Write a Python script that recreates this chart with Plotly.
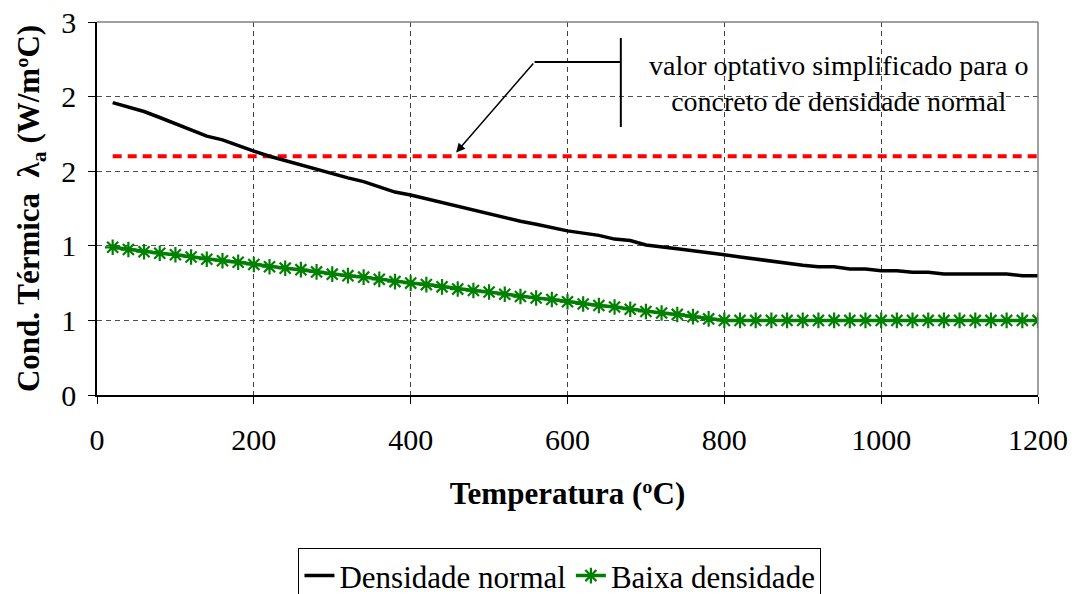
import plotly.graph_objects as go

# Temperature points (°C)
temps = [20, 40, 60, 80, 100, 120, 140, 160, 180, 200, 220, 240, 260, 280, 300,
         320, 340, 360, 380, 400, 420, 440, 460, 480, 500, 520, 540, 560, 580, 600,
         620, 640, 660, 680, 700, 720, 740, 760, 780, 800, 820, 840, 860, 880, 900,
         920, 940, 960, 980, 1000, 1020, 1040, 1060, 1080, 1100, 1120, 1140, 1160,
         1180, 1200]

# Thermal conductivity, normal-density concrete (W/m°C)
normal_density = [1.96, 1.93, 1.90, 1.86, 1.82, 1.78, 1.735, 1.71, 1.67, 1.635,
                  1.60, 1.57, 1.545, 1.515, 1.48, 1.455, 1.43, 1.395, 1.36, 1.34,
                  1.315, 1.29, 1.26, 1.24, 1.215, 1.19, 1.165, 1.145, 1.12, 1.10,
                  1.085, 1.07, 1.045, 1.035, 1.005, 0.995, 0.98, 0.967, 0.955, 0.94,
                  0.925, 0.91, 0.895, 0.88, 0.87, 0.86, 0.86, 0.845, 0.845, 0.833,
                  0.833, 0.822, 0.822, 0.811, 0.811, 0.811, 0.811, 0.811, 0.80, 0.80]

# Thermal conductivity, low-density concrete (W/m°C)
low_density = [0.99, 0.975, 0.96, 0.95, 0.94, 0.925, 0.91, 0.90, 0.89, 0.875,
               0.86, 0.85, 0.84, 0.825, 0.81, 0.80, 0.79, 0.775, 0.76, 0.75,
               0.74, 0.725, 0.71, 0.70, 0.69, 0.675, 0.66, 0.65, 0.64, 0.625,
               0.61, 0.60, 0.59, 0.575, 0.56, 0.55, 0.54, 0.525, 0.51, 0.50,
               0.50, 0.50, 0.50, 0.50, 0.50, 0.50, 0.50, 0.50, 0.50, 0.50,
               0.50, 0.50, 0.50, 0.50, 0.50, 0.50, 0.50, 0.50, 0.50, 0.50]

# Simplified optional value for normal-density concrete
simplified_temps = [20, 1200]
simplified_value = [1.6, 1.6]

y_tickvals = [0, 0.5, 1.0, 1.5, 2.0, 2.5]
y_ticktext = ["0", "1", "1", "2", "2", "3"]
x_tickvals = [0, 200, 400, 600, 800, 1000, 1200]

FONT = "Liberation Serif, Times New Roman, serif"

fig = go.Figure()

fig.add_trace(go.Scatter(
    x=simplified_temps, y=simplified_value, mode="lines",
    line=dict(color="#ff0000", width=4, dash="9px,6px"),
    showlegend=False, hoverinfo="skip"))

fig.add_trace(go.Scatter(
    x=temps, y=normal_density, mode="lines", name="Densidade normal",
    line=dict(color="black", width=3.5)))

fig.add_trace(go.Scatter(
    x=temps, y=low_density, mode="lines+markers", name="Baixa densidade",
    line=dict(color="#008000", width=3.5),
    marker=dict(symbol="asterisk", size=13, color="#008000",
                line=dict(color="#008000", width=2.2))))

# Callout: bracket, leader line and arrow pointing at the simplified value
fig.add_shape(type="line", x0=668, x1=668, y0=1.796, y1=2.393,
              xref="x", yref="y", line=dict(color="black", width=2))
fig.add_shape(type="line", x0=558, x1=668, y0=2.232, y1=2.232,
              xref="x", yref="y", line=dict(color="black", width=2))
fig.add_annotation(x=458, y=1.625, ax=558, ay=2.232, xref="x", yref="y",
                   axref="x", ayref="y", text="", showarrow=True,
                   arrowhead=2, arrowsize=1.2, arrowwidth=1.5, arrowcolor="black")
fig.add_annotation(x=945, y=2.085, xref="x", yref="y", showarrow=False,
                   text="valor optativo simplificado para o<br>concreto de densidade normal",
                   font=dict(family=FONT, size=28, color="black"),
                   align="center")

# Gray frame on the top and right sides of the plot area
fig.add_shape(type="line", xref="paper", yref="paper", x0=0, x1=1, y0=1, y1=1,
              line=dict(color="#808080", width=1.5))
fig.add_shape(type="line", xref="paper", yref="paper", x0=1, x1=1, y0=0, y1=1,
              line=dict(color="#808080", width=1.5))

fig.update_layout(
    width=1079, height=594,
    margin=dict(l=97, r=41, t=22, b=199, autoexpand=False),
    paper_bgcolor="white", plot_bgcolor="white",
    font=dict(family=FONT, size=30, color="black"),
    legend=dict(orientation="h", x=0.492, xanchor="center", y=-0.41, yanchor="top",
                bordercolor="black", borderwidth=1, font=dict(size=31),
                tracegroupgap=0),
    xaxis=dict(range=[0, 1200], tickvals=x_tickvals, showline=True,
               linecolor="black", linewidth=1.5, ticks="outside", ticklen=7,
               tickcolor="black", showgrid=True, gridcolor="#404040",
               griddash="5px,4px", gridwidth=1, zeroline=False, automargin=False,
               tickfont=dict(size=30), ticklabelstandoff=10,
               title=dict(text="<b>Temperatura (ºC)</b>", font=dict(size=31),
                          standoff=28)),
    yaxis=dict(range=[0, 2.5], tickvals=y_tickvals, ticktext=y_ticktext,
               showline=True, linecolor="black", linewidth=1.5, ticks="outside",
               ticklen=7, tickcolor="black", showgrid=True, gridcolor="#505050",
               griddash="5px,4px", gridwidth=1, zeroline=False, automargin=False,
               tickfont=dict(size=30), ticklabelstandoff=6,
               title=dict(text="<b>Cond. Térmica  λ<sub>a</sub> (W/mºC)</b>",
                          font=dict(size=31), standoff=12)),
)

fig.write_html("out.html")
